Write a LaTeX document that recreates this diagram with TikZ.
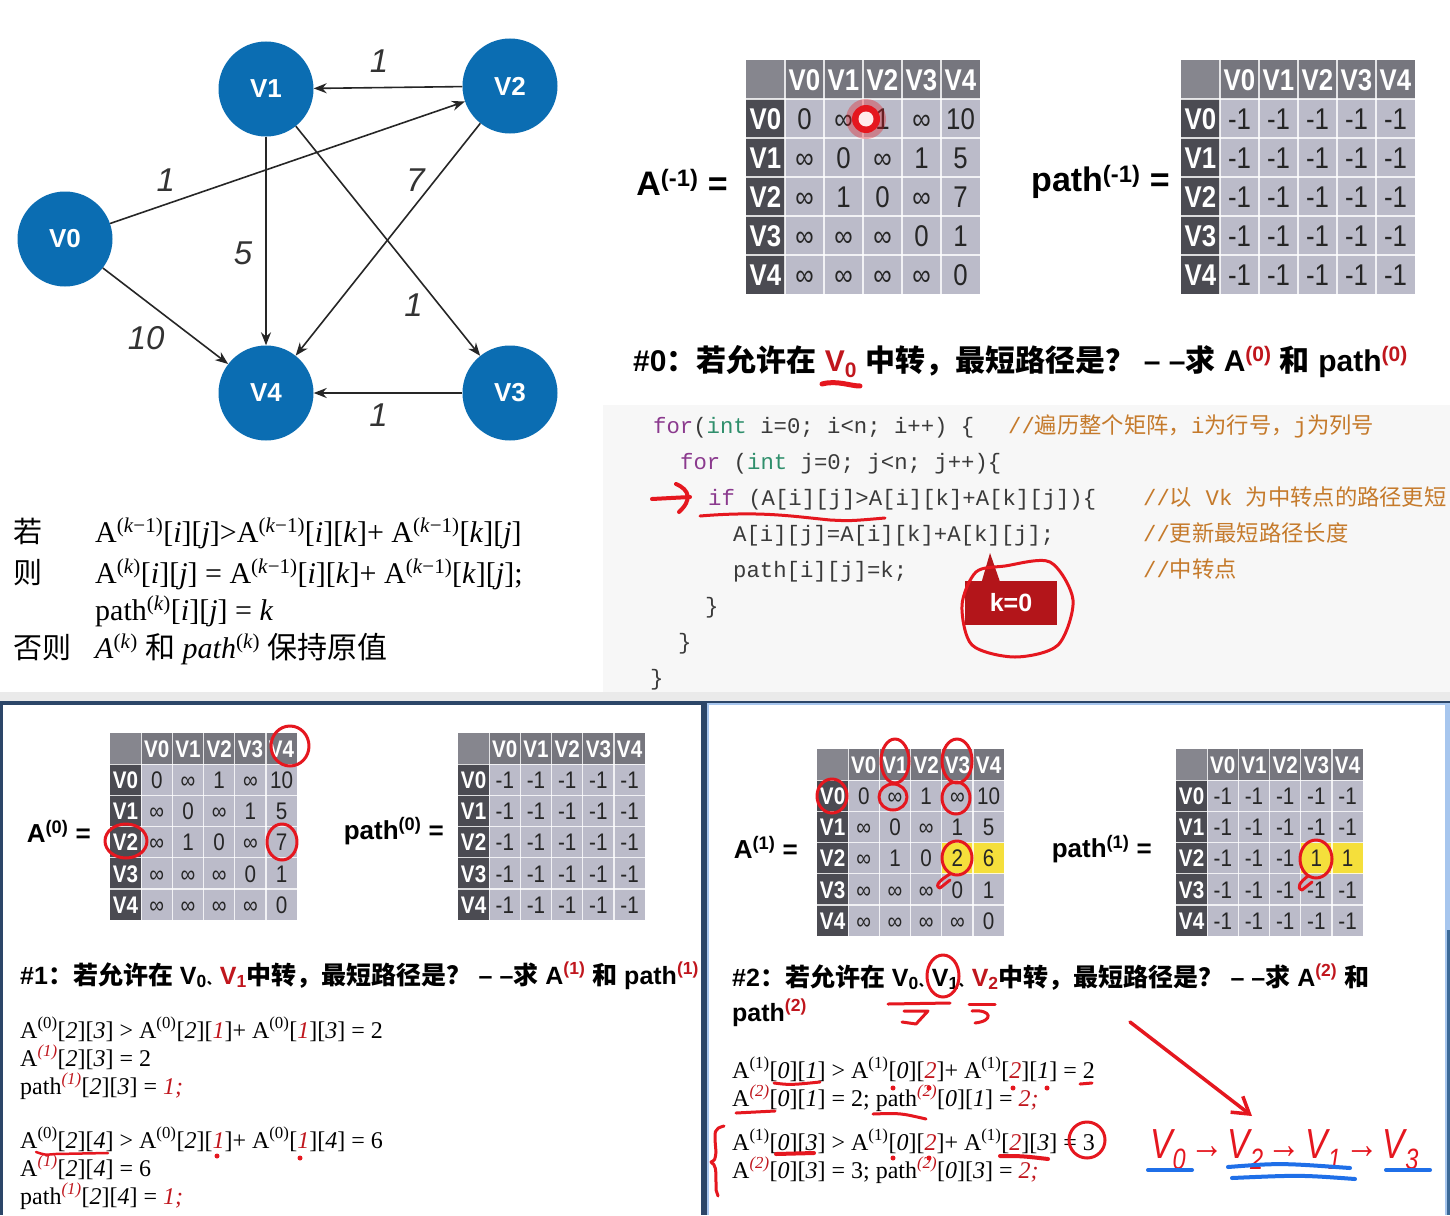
\documentclass[tikz,border=0pt]{standalone}
\usepackage{fontspec}
\setmainfont{Liberation Sans}
\setmonofont{Liberation Mono}
\newfontfamily\tms{Liberation Serif}
\newfontfamily\cjk{Noto Sans CJK SC}
\newfontfamily\cond[FakeStretch=0.86]{Liberation Sans}
\newfontfamily\hand[FakeStretch=0.8]{Liberation Sans}
\usetikzlibrary{arrows.meta,calc}
\definecolor{nodeblue}{HTML}{0B6DB2}
\definecolor{hdrg}{HTML}{76767E}
\definecolor{cornerg}{HTML}{86868E}
\definecolor{rowg}{HTML}{4B4B52}
\definecolor{bodyg}{HTML}{BBBBC9}
\definecolor{hlyel}{HTML}{F5DF3B}
\definecolor{ink}{HTML}{E5171F}
\definecolor{hred}{HTML}{C0161D}
\definecolor{callred}{HTML}{B3151A}
\definecolor{codebg}{HTML}{F7F7F7}
\definecolor{kwp}{HTML}{8B3A8E}
\definecolor{kwg}{HTML}{2F8F6C}
\definecolor{cmtc}{HTML}{C57A2B}
\definecolor{codetxt}{HTML}{3A3A3A}
\definecolor{navy}{HTML}{2C4668}
\definecolor{panelb}{HTML}{A7C6EE}
\definecolor{penblue}{HTML}{1F6FE8}
\definecolor{shadowg}{HTML}{EAEAEA}
\definecolor{photo}{HTML}{3C6A98}
\newcommand\fsz[1]{\fontsize{#1}{#1}\selectfont}
\newcommand\zb[1]{{\cjk\bfseries #1}}
\newcommand\zr[1]{{\cjk #1}}
\newcommand\spx[1]{\textsuperscript{#1}}
\newcommand\ii[1]{\textit{#1}}
\newcommand\rr[1]{{\color{hred}\textit{#1}}}
\newcommand\dun{{\cjk\bfseries\fsz{13}、}}
% matrix background: x y s
\newcommand\matbg[3]{%
  \fill[hdrg] (#1,#2) rectangle ++({6*#3},#3);
  \fill[cornerg] (#1,#2) rectangle ++(#3,#3);
  \fill[rowg] (#1,{#2+#3}) rectangle ++(#3,{5*#3});
  \fill[bodyg] ({#1+#3},{#2+#3}) rectangle ++({5*#3},{5*#3});}
% highlight: x y s row col
\newcommand\hlcell[5]{\fill[hlyel] ({#1+#5*#3},{#2+#4*#3}) rectangle ++(#3,#3);}
% matrix text: name x y s fontsize rows
\newcommand\mattext[6]{%
  \foreach \kk in {1,...,5}{
    \draw[gridw] ({#2+\kk*#4},#3) -- ++(0,{6*#4});
    \draw[gridw] (#2,{#3+\kk*#4}) -- ++({6*#4},0);
  }
  \foreach \kk in {0,...,4}{
    \node[hdrtxt,font=\cond\bfseries\fsz{#5}] (#1-h\kk) at ({#2+(\kk+1.5)*#4},{#3+0.5*#4+0.36*#5}) {V\kk};
    \node[hdrtxt,font=\cond\bfseries\fsz{#5}] (#1-r\kk) at ({#2+0.5*#4},{#3+(\kk+1.5)*#4+0.36*#5}) {V\kk};
  }
  \foreach \rw [count=\rno] in {#6}{
    \foreach \vv [count=\cno] in \rw{
      \node[celltxt,font=\cond\fsz{#5}] (#1-\rno-\cno) at ({#2+(\cno+0.5)*#4},{#3+(\rno+0.5)*#4+0.36*#5}) {\vv};
    }
  }
}
\begin{document}
\begin{tikzpicture}[x=1pt,y=-1pt,
  vtx/.style={circle, fill=nodeblue, minimum size=95pt, inner sep=0pt, text=white, font=\bfseries\fsz{26}},
  edge/.style={draw=black!85, line width=1.6pt, -{Stealth[length=13pt,width=10pt]}},
  elabel/.style={font=\itshape\fsz{33}, text=black!80, inner sep=0pt},
  gridw/.style={draw=white, line width=1.1pt, opacity=0.8},
  hdrtxt/.style={text=white, inner sep=0pt, anchor=base},
  celltxt/.style={text=black!85, inner sep=0pt, anchor=base},
  mlabel/.style={anchor=east, font=\bfseries\fsz{#1}, inner sep=0pt},
  code/.style={anchor=base west, font=\ttfamily\fsz{22.3}, text=codetxt, inner sep=0pt},
  cmt/.style={code, text=cmtc},
  tline/.style={anchor=base west, font=\tms\fsz{#1}, inner sep=0pt},
  head/.style={anchor=base west, font=\bfseries\fsz{#1}, inner sep=0pt},
  pen/.style={draw=ink, line width=3pt, line cap=round, line join=round},
  bpen/.style={draw=penblue, line width=4pt, line cap=round}]
\useasboundingbox (0,0) rectangle (1450,1215);
\begin{scope}
\clip (0,0) rectangle (1450,1215);
% ---------- backgrounds
\fill[white] (0,0) rectangle (1450,1215);
\fill[codebg] (603,405) rectangle (1450,692);
\fill[shadowg] (0,692) rectangle (1450,701);
\fill[navy] (0,701) rectangle (1450,1215);
\fill[white] (3,705) rectangle (701,1215);
\fill[panelb] (707,703) rectangle (1450,1215);
\fill[photo] (1447,930) rectangle (1450,1215);
\fill[white] (709,705) rectangle (1445,1215);

% ---------- graph
\node[vtx] (v0) at (65,239) {V0};
\node[vtx] (v1) at (266,89) {V1};
\node[vtx] (v2) at (510,86) {V2};
\node[vtx] (v3) at (510,393) {V3};
\node[vtx] (v4) at (266,393) {V4};
\draw[edge] (v2) -- (v1) node[elabel,pos=0.56,shift={(0,-26)}] (w21) {1};
\draw[edge] (v0) -- (v2) node[elabel,pos=0.16,shift={(-1,-24)}] (w02) {1};
\draw[edge] (v1) -- (v4) node[elabel,pos=0.557,shift={(-23,0)}] (w14) {5};
\draw[edge] (v1) -- (v3) node[elabel,pos=0.78,shift={(-26,0)}] (w13) {1};
\draw[edge] (v2) -- (v4) node[elabel,pos=0.2425,shift={(-20,0)}] (w24) {7};
\draw[edge] (v3) -- (v4) node[elabel,pos=0.564,shift={(0,22)}] (w34) {1};
\draw[edge] (v0) -- (v4) node[elabel,pos=0.49,shift={(-18,23)}] (w04) {10};

% ---------- rule text
\node[anchor=base west, font=\cjk\fsz{29}, inner sep=0pt] (ruo) at (13,542) {若};
\node[tline=30] (f1) at (95,542) {A\spx{(\ii{k}−1)}[\ii{i}][\ii{j}]>A\spx{(\ii{k}−1)}[\ii{i}][\ii{k}]+ A\spx{(\ii{k}−1)}[\ii{k}][\ii{j}]};
\node[anchor=base west, font=\cjk\fsz{29}, inner sep=0pt] (ze) at (13,583) {则};
\node[tline=30] (f2) at (95,583) {A\spx{(\ii{k})}[\ii{i}][\ii{j}] = A\spx{(\ii{k}−1)}[\ii{i}][\ii{k}]+ A\spx{(\ii{k}−1)}[\ii{k}][\ii{j}];};
\node[tline=30] (f3) at (95,620) {path\spx{(\ii{k})}[\ii{i}][\ii{j}] = \ii{k}};
\node[anchor=base west, font=\cjk\fsz{29}, inner sep=0pt] (fouze) at (13,658) {否则};
\node[tline=30] (f4) at (95,658) {\ii{A}\spx{(\ii{k})} \zr{和} \ii{path}\spx{(\ii{k})} \zr{保持原值}};

% ---------- top matrices
\matbg{746}{60}{39}
\mattext{am}{746}{60}{39}{30}{{0,∞,1,∞,10},{∞,0,∞,1,5},{∞,1,0,∞,7},{∞,∞,∞,0,1},{∞,∞,∞,∞,0}}
\matbg{1181}{60}{39}
\mattext{pm}{1181}{60}{39}{30}{{-1,-1,-1,-1,-1},{-1,-1,-1,-1,-1},{-1,-1,-1,-1,-1},{-1,-1,-1,-1,-1},{-1,-1,-1,-1,-1}}
\node[mlabel=34] (lam) at (728,182) {A\spx{(-1)} =};
\node[mlabel=34] (lpm) at (1170,182) {path\spx{(-1)} =};
% laser dot
\fill[ink, opacity=0.35] (866,119) circle (20);
\fill[ink] (866,119) circle (14);
\fill[white!92!red] (866,119) circle (7.5);

% ---------- heading #0
\node[head=30] (h0) at (633,371) {\#0\zb{：若允许在} {\color{hred}V\textsubscript{0}} \zb{中转，最短路径是？} – –\zb{求} A\spx{\color{hred}(0)} \zb{和} path\spx{\color{hred}(0)}};
\draw[pen, line width=5pt] (822,384) .. controls (837,380) and (850,386) .. (860,386);

% ---------- code
\node[code] (c1) at (653,433) {{\color{kwp}for}({\color{kwg}int} i=0; i<n; i++) \{};
\node[cmt] (m1) at (1008,433) {//\zr{遍历整个矩阵，}i\zr{为行号，}j\zr{为列号}};
\node[code] (c2) at (680,469) {{\color{kwp}for} ({\color{kwg}int} j=0; j<n; j++)\{};
\node[code] (c3) at (708,505) {{\color{kwp}if} (A[i][j]>A[i][k]+A[k][j])\{};
\node[cmt] (m3) at (1143,505) {//\zr{以} Vk \zr{为中转点的路径更短}};
\node[code] (c4) at (733,541) {A[i][j]=A[i][k]+A[k][j];};
\node[cmt] (m4) at (1143,541) {//\zr{更新最短路径长度}};
\node[code] (c5) at (733,577) {path[i][j]=k;};
\node[cmt] (m5) at (1143,577) {//\zr{中转点}};
\node[code] (c6) at (705,613) {\}};
\node[code] (c7) at (678,649) {\}};
\node[code] (c8) at (650,685) {\}};
% annotations on code
\draw[pen, line width=4pt] (652,499) -- (690,497);
\draw[pen, line width=4pt] (676,484) .. controls (690,490) and (692,500) .. (679,512);
\draw[pen] (700,516) .. controls (760,511) and (790,516) .. (830,520) .. controls (850,521) .. (885,518);
\node[fill=callred, text=white, font=\bfseries\fsz{25}, minimum width=92pt, minimum height=44pt, inner sep=0pt] (k0) at (1011,603) {k=0};
\fill[callred] ($(k0.north west)+(17,0.5)$) -- (990,553) -- ($(k0.north west)+(35,0.5)$) -- cycle;
\draw[pen] plot[smooth cycle] coordinates {(1005,566) (1050,562) (1073,600) (1058,645) (1015,657) (972,645) (962,605) (976,572)};

% ---------- bottom-left panel
\begin{scope}
\clip (3,705) rectangle (701,1215);
\matbg{110}{733}{31.2}
\mattext{a0}{110}{733}{31.2}{24}{{0,∞,1,∞,10},{∞,0,∞,1,5},{∞,1,0,∞,7},{∞,∞,∞,0,1},{∞,∞,∞,∞,0}}
\matbg{458}{733}{31.2}
\mattext{p0}{458}{733}{31.2}{24}{{-1,-1,-1,-1,-1},{-1,-1,-1,-1,-1},{-1,-1,-1,-1,-1},{-1,-1,-1,-1,-1},{-1,-1,-1,-1,-1}}
\node[mlabel=26] (la0) at (91,831) {A\spx{(0)} =};
\node[mlabel=26] (lp0) at (444,831) {path\spx{(0)} =};
\draw[pen] (290,746) ellipse [x radius=19, y radius=20];
\draw[pen] (126,841) ellipse [x radius=21, y radius=17];
\draw[pen] (282,842) ellipse [x radius=15, y radius=18];
\node[head=25] (h1) at (20,984) {\#1\zb{：若允许在} V\textsubscript{0}\dun{\color{hred}V\textsubscript{1}}\zb{中转，最短路径是？} – –\zb{求} A\spx{\color{hred}(1)} \zb{和} path\spx{\color{hred}(1)}};
\node[tline=24] (b1) at (20,1038) {A\spx{(0)}[\ii{2}][\ii{3}] > A\spx{(0)}[\ii{2}][\rr{1}]+ A\spx{(0)}[\rr{1}][\ii{3}] = 2};
\node[tline=24] (b2) at (20,1066) {A\spx{\rr{(1)}}[\ii{2}][\ii{3}] = 2};
\node[tline=24] (b3) at (20,1094) {path\spx{\rr{(1)}}[\ii{2}][\ii{3}] = \rr{1;}};
\node[tline=24] (b4) at (20,1148) {A\spx{(0)}[\ii{2}][\ii{4}] > A\spx{(0)}[\ii{2}][\rr{1}]+ A\spx{(0)}[\rr{1}][\ii{4}] = 6};
\node[tline=24] (b5) at (20,1176) {A\spx{\rr{(1)}}[\ii{2}][\ii{4}] = 6};
\node[tline=24] (b6) at (20,1204) {path\spx{\rr{(1)}}[\ii{2}][\ii{4}] = \rr{1;}};
\draw[pen, line width=2.5pt] (36,1152) .. controls (45,1155) .. (55,1154) -- (108,1153);
\fill[ink] (217,1156) circle (2.5);
\fill[ink] (300,1158) circle (2.5);
\end{scope}

% ---------- bottom-right panel
\begin{scope}
\clip (709,705) rectangle (1445,1215);
\matbg{817}{749}{31.2}
\hlcell{817}{749}{31.2}{3}{4}
\hlcell{817}{749}{31.2}{3}{5}
\mattext{a1}{817}{749}{31.2}{24}{{0,∞,1,∞,10},{∞,0,∞,1,5},{∞,1,0,2,6},{∞,∞,∞,0,1},{∞,∞,∞,∞,0}}
\matbg{1176}{749}{31.2}
\hlcell{1176}{749}{31.2}{3}{4}
\hlcell{1176}{749}{31.2}{3}{5}
\mattext{p1}{1176}{749}{31.2}{24}{{-1,-1,-1,-1,-1},{-1,-1,-1,-1,-1},{-1,-1,-1,1,1},{-1,-1,-1,-1,-1},{-1,-1,-1,-1,-1}}
\node[mlabel=26] (la1) at (798,847) {A\spx{(1)} =};
\node[mlabel=26] (lp1) at (1152,849) {path\spx{(1)} =};
\draw[pen] (895,761) ellipse [x radius=14, y radius=22];
\draw[pen] (957,761) ellipse [x radius=15, y radius=22];
\draw[pen] (832,796) ellipse [x radius=15, y radius=17];
\draw[pen] (893,797) ellipse [x radius=14, y radius=13];
\draw[pen] (956,798) ellipse [x radius=14, y radius=16];
\draw[pen] (957,858) ellipse [x radius=15, y radius=17];
\draw[pen] (950,874) .. controls (940,880) and (934,886) .. (940,888) -- (950,880);
\draw[pen] (1316,859) ellipse [x radius=16, y radius=19];
\draw[pen] (1308,876) .. controls (1300,882) and (1296,888) .. (1302,890) -- (1312,882);
\node[head=25] (h2) at (732,986) {\#2\zb{：若允许在} V\textsubscript{0}\dun V\textsubscript{1}\dun{\color{hred}V\textsubscript{2}}\zb{中转，最短路径是？} – –\zb{求} A\spx{\color{hred}(2)} \zb{和}};
\node[head=25] (h2b) at (732,1021) {path\spx{\color{hred}(2)}};
\node[tline=24] (g1) at (732,1078) {A\spx{(1)}[\ii{0}][\ii{1}] > A\spx{(1)}[\ii{0}][\rr{2}]+ A\spx{(1)}[\rr{2}][\ii{1}] = 2};
\node[tline=24] (g2) at (732,1106) {A\spx{\rr{(2)}}[\ii{0}][\ii{1}] = 2; path\spx{\rr{(2)}}[\ii{0}][\ii{1}] = \rr{2;}};
\node[tline=24] (g3) at (732,1150) {A\spx{(1)}[\ii{0}][\ii{3}] > A\spx{(1)}[\ii{0}][\rr{2}]+ A\spx{(1)}[\rr{2}][\ii{3}] = 3};
\node[tline=24] (g4) at (732,1178) {A\spx{\rr{(2)}}[\ii{0}][\ii{3}] = 3; path\spx{\rr{(2)}}[\ii{0}][\ii{3}] = \rr{2;}};
% handwriting on heading #2
\draw[pen] (943,976) ellipse [x radius=16, y radius=21];
\draw[pen] (888,1004) -- (950,1003);
\draw[pen] (904,1011) -- (928,1011) -- (916,1024) -- (902,1022);
\draw[pen] (969,1004) -- (995,1004);
\draw[pen] (972,1011) .. controls (992,1009) and (994,1021) .. (975,1023);
% marks on formulas
\draw[pen] (774,1083) .. controls (790,1085) .. (820,1082);
\draw[pen] (1080,1084) -- (1092,1083);
\fill[ink] (893,1088) circle (2.5);
\fill[ink] (929,1088) circle (2.5);
\fill[ink] (1013,1088) circle (2.5);
\fill[ink] (1047,1088) circle (2.5);
\draw[pen] (736,1113) -- (775,1111);
\draw[pen] (873,1114) .. controls (900,1113) .. (926,1119);
\draw[pen, line width=4pt] (776,1154) -- (814,1153);
\draw[pen, line width=4pt] (1000,1156) .. controls (1022,1156) .. (1048,1159);
\fill[ink] (893,1158) circle (2.5);
\fill[ink] (929,1158) circle (2.5);
\draw[pen] (1087,1140) circle (18);
\draw[pen] (724,1126) .. controls (714,1129) .. (716,1152) .. controls (715,1160) .. (711,1162) .. controls (716,1166) .. (716,1190) -- (718,1196);
% handwritten path
\node[anchor=base west, font=\hand\itshape\fsz{42}, text=ink, inner sep=0pt] (hw) at (1150,1158) {V\textsubscript{0}\hspace{4pt}→\hspace{4pt}V\textsubscript{2}\hspace{4pt}→\hspace{4pt}V\textsubscript{1}\hspace{4pt}→\hspace{4pt}V\textsubscript{3}};
\draw[pen, line width=3.5pt, -{Straight Barb[length=16pt,width=20pt]}] (1130,1022) -- (1252,1116);
\draw[bpen] (1148,1170) -- (1192,1170);
\draw[bpen] (1228,1167) .. controls (1280,1163) .. (1350,1168);
\draw[bpen] (1232,1178) .. controls (1300,1175) .. (1355,1179);
\draw[bpen] (1386,1170) -- (1430,1170);
\end{scope}
\end{scope}
\end{tikzpicture}
\end{document}
